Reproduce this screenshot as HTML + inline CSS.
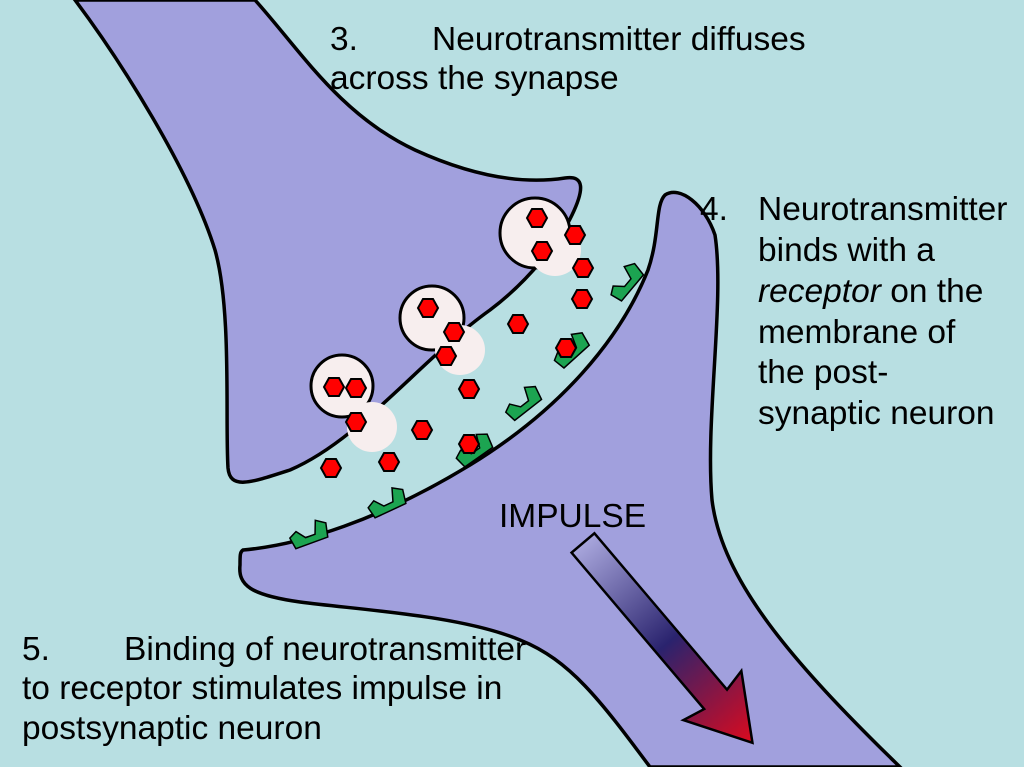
<!DOCTYPE html>
<html><head><style>
html,body{margin:0;padding:0;background:#b8dfe2;}
svg{display:block}
text{font-family:"Liberation Sans",sans-serif;font-size:33.5px;fill:#000}
</style></head><body>
<svg width="1024" height="767" viewBox="0 0 1024 767" xmlns="http://www.w3.org/2000/svg">
<defs>
<linearGradient id="ag" x1="0" y1="0" x2="1" y2="0">
<stop offset="0" stop-color="#a8a6dc"/>
<stop offset="0.5" stop-color="#2a236e"/>
<stop offset="1" stop-color="#dc0a1e"/>
</linearGradient>
<polygon id="hx" points="-5,-9 5,-9 10,0 5,9 -5,9 -10,0" fill="#f00" stroke="#000" stroke-width="2"/>
<path id="rc" d="M-18,8 L-20,-4 L-12,-8 L-5,1 L5,1 L10,-12 L19,-6 L16,8 Z" fill="#1ca451" stroke="#000" stroke-width="1.5"/>
</defs>
<rect width="1024" height="767" fill="#b8dfe2"/>
<path d="M75,0 C120,60 190,170 215,250 C232,310 225,420 228,468 C230,490 250,483 290,470 C360,440 420,360 490,310 C530,280 560,240 572,215 C584,190 585,175 565,178 C520,185 470,175 415,150 C340,115 300,50 255,0 Z" fill="#a1a0dd" stroke="#000" stroke-width="3.5"/>
<path d="M243,550 C300,545 380,520 470,465 C560,410 620,340 648,270 C660,235 655,205 665,195 C680,185 705,205 715,235 C725,300 705,420 712,500 C722,580 790,660 900,767 L650,767 C600,700 570,660 520,640 C460,615 360,610 300,602 C250,595 238,585 240,565 C240,555 240,552 243,550 Z" fill="#a1a0dd" stroke="#000" stroke-width="3.5"/>
<circle cx="535" cy="233" r="35" fill="#f7eeee" stroke="#000" stroke-width="3"/>
<circle cx="555" cy="250" r="26" fill="#f7eeee"/>
<circle cx="432" cy="318" r="32" fill="#f7eeee" stroke="#000" stroke-width="3"/>
<circle cx="460" cy="350" r="25" fill="#f7eeee"/>
<circle cx="342" cy="386" r="31" fill="#f7eeee" stroke="#000" stroke-width="3"/>
<circle cx="372" cy="427" r="25" fill="#f7eeee"/>
<use href="#rc" transform="translate(310,535) rotate(-20)"/>
<use href="#rc" transform="translate(388,503) rotate(-25)"/>
<use href="#rc" transform="translate(475,450) rotate(-35)"/>
<use href="#rc" transform="translate(524,403) rotate(-38)"/>
<use href="#rc" transform="translate(572,350) rotate(-42)"/>
<use href="#rc" transform="translate(627,282) rotate(-50)"/>
<use href="#hx" x="537" y="218"/><use href="#hx" x="575" y="235"/><use href="#hx" x="542" y="251"/>
<use href="#hx" x="583" y="268"/><use href="#hx" x="582" y="299"/><use href="#hx" x="518" y="324"/>
<use href="#hx" x="428" y="308"/><use href="#hx" x="454" y="332"/><use href="#hx" x="446" y="356"/>
<use href="#hx" x="469" y="389"/><use href="#hx" x="566" y="348"/><use href="#hx" x="334" y="387"/>
<use href="#hx" x="356" y="388"/><use href="#hx" x="356" y="422"/><use href="#hx" x="422" y="430"/>
<use href="#hx" x="469" y="444"/><use href="#hx" x="389" y="462"/><use href="#hx" x="331" y="468"/>
<polygon transform="translate(583,543) rotate(49.7)" points="0,-15 205,-15 200,-38 262,0 200,38 205,15 0,15" fill="url(#ag)" stroke="#000" stroke-width="2.5"/>
<text x="330" y="50">3.</text><text x="432" y="50">Neurotransmitter diffuses</text>
<text x="330" y="89">across the synapse</text>
<text x="700" y="220">4.</text><text x="758" y="220">Neurotransmitter</text>
<text x="758" y="261">binds with a</text>
<text x="758" y="302"><tspan font-style="italic">receptor</tspan> on the</text>
<text x="758" y="343">membrane of</text>
<text x="758" y="383">the post-</text>
<text x="758" y="424">synaptic neuron</text>
<text x="499" y="527">IMPULSE</text>
<text x="22" y="660">5.</text><text x="124" y="660">Binding of neurotransmitter</text>
<text x="22" y="699">to receptor stimulates impulse in</text>
<text x="22" y="739">postsynaptic neuron</text>
</svg>
</body></html>
